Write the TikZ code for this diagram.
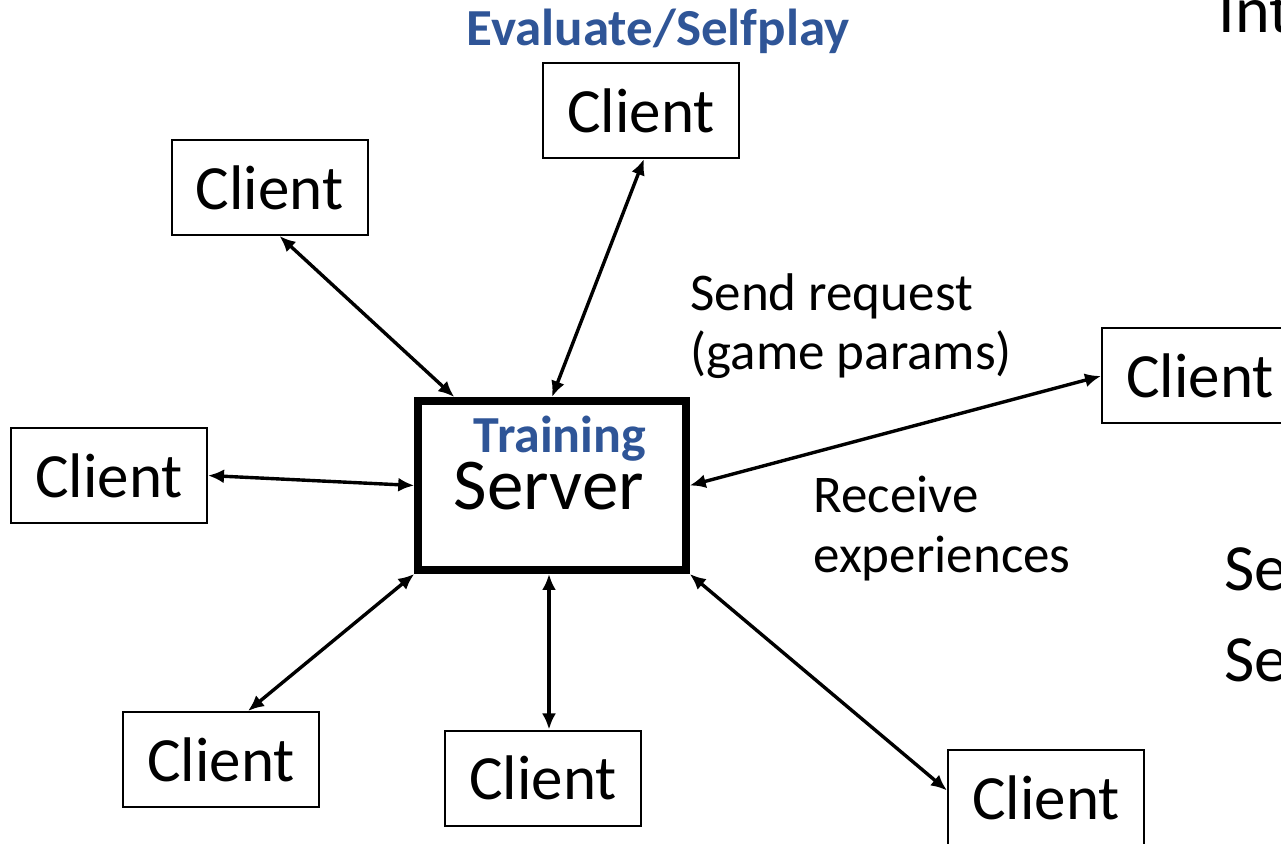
\documentclass[tikz,border=0pt]{standalone}
\usepackage{fontspec}
\setmainfont{Carlito}
\usetikzlibrary{arrows.meta}
\definecolor{accent}{RGB}{47,85,151}
\tikzset{
  client/.style={draw, line width=1pt, minimum width=98pt, minimum height=47.5pt,
    inner sep=0pt, font=\fontsize{31.5}{37}\selectfont},
  hub/.style={draw, line width=4pt, minimum width=133.75pt, minimum height=84.5pt, inner sep=0pt},
  link/.style={line width=1.7pt, {Latex[length=8pt,width=7pt]}-{Latex[length=8pt,width=7pt]}},
  note/.style={anchor=base west, inner sep=0pt, font=\fontsize{26.5}{32}\selectfont},
  tag/.style={anchor=base, inner sep=0pt, text=accent, font=\bfseries\fontsize{26}{31}\selectfont},
  cut/.style={anchor=base west, inner sep=0pt, font=\fontsize{33}{40}\selectfont}
}
\begin{document}
\begin{tikzpicture}[x=0.5pt,y=-0.5pt]
\useasboundingbox (0,0) rectangle (1281,844);
\clip (0,0) rectangle (1281,844);

% server in the middle
\node[hub] (server) at (552,485.5) {};
\node[tag] (trainlbl) at (560,453) {Training};
\node[anchor=base, inner sep=0pt, font=\fontsize{36.5}{44}\selectfont] (serverlbl) at (549,510) {Server};

% clients around it
\node[client] (top)   at (641,110.5) {Client};
\node[client] (tl)    at (269.5,187.5) {Client};
\node[client] (left)  at (109,475.5) {Client};
\node[client] (bl)    at (221,759.5) {Client};
\node[client] (bc)    at (543,778) {Client};
\node[client] (br)    at (1046,797.5) {Client};
\node[client] (rc)    at (1200,376) {Client};

% headings and notes
\node[tag] (evallbl) at (658,46) {\scalebox{1.02}[1]{Evaluate/Selfplay}};
\node[note] (send1) at (690,311) {Send request};
\node[note] (send2) at (690,370) {(game params)};
\node[note] (recv1) at (813,513) {Receive};
\node[note] (recv2) at (813,573) {experiences};

% text running off the right edge
\node[cut] (int) at (1218,33) {Int};
\node[cut] (se1) at (1224,591) {Se};
\node[cut] (se2) at (1224,682) {Se};

% links
\draw[link] ([xshift=1.5pt]top.south) -- (server.north);
\draw[link] ([xshift=5pt]tl.south) -- ([xshift=20pt]server.north west);
\draw[link] (left.east) -- (server.west);
\draw[link] ([xshift=13.5pt]bl.north) -- (server.south west);
\draw[link] ([xshift=3pt]bc.north) -- ([xshift=-1.5pt]server.south);
\draw[link] ([yshift=3.5pt]br.west) -- (server.south east);
\draw[link] (rc.west) -- (server.east);
\end{tikzpicture}
\end{document}
